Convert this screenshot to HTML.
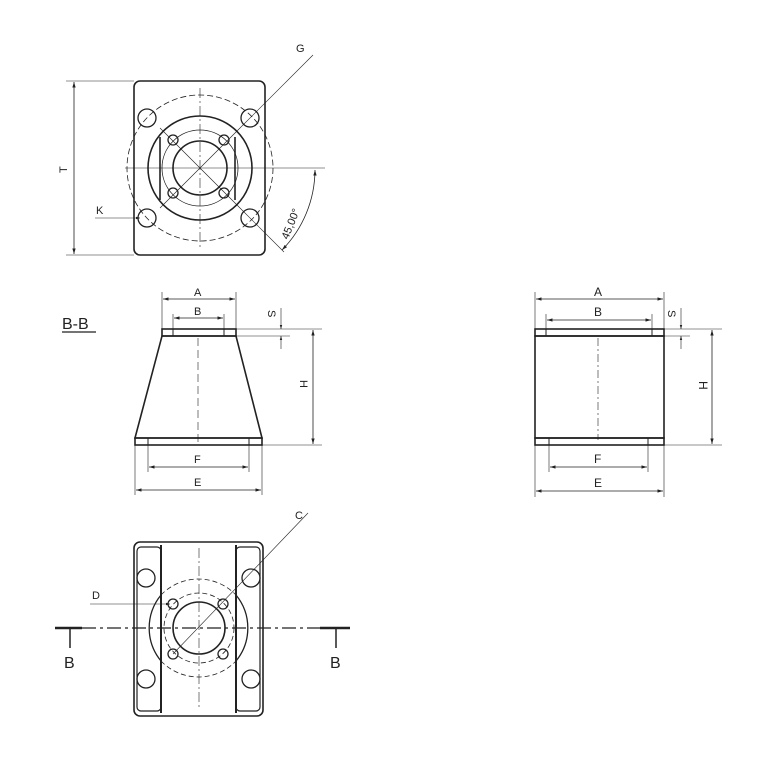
<!DOCTYPE html>
<html><head><meta charset="utf-8"><style>
html,body{margin:0;padding:0;background:#fff;}
svg{display:block;}
text{font-family:"Liberation Sans",sans-serif;fill:#222;}
</style></head><body>
<svg width="767" height="767" viewBox="0 0 767 767" xmlns="http://www.w3.org/2000/svg">
<defs>
<marker id="a" viewBox="0 0 10 10" refX="10" refY="5" markerWidth="7" markerHeight="7" orient="auto-start-reverse"><path d="M0,2 L10,5 L0,8 z" fill="#222"/></marker>
</defs>
<g fill="none" stroke="#222" stroke-width="1">
<!-- TOP VIEW -->
<rect x="134" y="81" width="131" height="174" rx="6" stroke-width="1.6"/>
<circle cx="200" cy="168" r="73" stroke-dasharray="6,3" stroke-width="0.8"/>
<circle cx="200" cy="168" r="52" stroke-width="1.6"/>
<circle cx="200" cy="168" r="38" stroke-width="0.8"/>
<circle cx="200" cy="168" r="27" stroke-width="1.6"/>
<line x1="160" y1="137" x2="160" y2="200" stroke-width="1.6"/>
<line x1="235" y1="137" x2="235" y2="200" stroke-width="1.6"/>
<g stroke-width="1.3">
<circle cx="147" cy="118" r="9"/><circle cx="250" cy="118" r="9"/>
<circle cx="147" cy="218" r="9"/><circle cx="250" cy="218" r="9"/>
<circle cx="173" cy="140" r="5"/><circle cx="224" cy="140" r="5"/>
<circle cx="173" cy="193" r="5"/><circle cx="224" cy="193" r="5"/>
</g>
<g stroke-width="0.6">
<line x1="125" y1="168" x2="325" y2="168"/>
<line x1="200" y1="88" x2="200" y2="248" stroke-dasharray="10,3,2,3"/>
<line x1="160" y1="208" x2="240" y2="128"/>
<line x1="160" y1="128" x2="240" y2="208"/>
<line x1="240" y1="128" x2="313" y2="55"/>
<line x1="240" y1="208" x2="284" y2="252"/>
<line x1="66" y1="81" x2="134" y2="81"/>
<line x1="66" y1="255" x2="134" y2="255"/>
<line x1="95" y1="218" x2="140" y2="218" marker-end="url(#a)"/>
</g>
<line x1="74" y1="82" x2="74" y2="254" stroke-width="0.8" marker-start="url(#a)" marker-end="url(#a)"/>
<path d="M315,170 A115,115 0 0 1 282,250" stroke-width="0.8" marker-start="url(#a)" marker-end="url(#a)"/>

<!-- SECTION B-B -->
<g stroke-width="1.6">
<rect x="162" y="329" width="74" height="7"/>
<polygon points="162,336 236,336 262,438 135,438"/>
<rect x="135" y="438" width="127" height="7"/>
</g>
<g stroke-width="1">
<line x1="173" y1="329" x2="173" y2="336"/><line x1="224" y1="329" x2="224" y2="336"/>
<line x1="148" y1="438" x2="148" y2="445"/><line x1="249" y1="438" x2="249" y2="445"/>
</g>
<g stroke-width="0.6">
<line x1="198" y1="338" x2="198" y2="445" stroke-dasharray="8,4"/>
<line x1="162" y1="292" x2="162" y2="329"/><line x1="236" y1="292" x2="236" y2="329"/>
<line x1="173" y1="314" x2="173" y2="329"/><line x1="224" y1="314" x2="224" y2="329"/>
<line x1="236" y1="329" x2="322" y2="329"/><line x1="236" y1="336" x2="290" y2="336"/>
<line x1="262" y1="445" x2="322" y2="445"/>
<line x1="148" y1="445" x2="148" y2="472"/><line x1="249" y1="445" x2="249" y2="472"/>
<line x1="135" y1="445" x2="135" y2="495"/><line x1="262" y1="445" x2="262" y2="495"/>
<line x1="281" y1="308" x2="281" y2="329" marker-end="url(#a)"/>
<line x1="281" y1="349" x2="281" y2="336" marker-end="url(#a)"/>
</g>
<g stroke-width="0.8">
<line x1="163" y1="299" x2="235" y2="299" marker-start="url(#a)" marker-end="url(#a)"/>
<line x1="174" y1="318" x2="223" y2="318" marker-start="url(#a)" marker-end="url(#a)"/>
<line x1="313" y1="330" x2="313" y2="444" marker-start="url(#a)" marker-end="url(#a)"/>
<line x1="149" y1="467" x2="248" y2="467" marker-start="url(#a)" marker-end="url(#a)"/>
<line x1="136" y1="490" x2="261" y2="490" marker-start="url(#a)" marker-end="url(#a)"/>
</g>

<!-- RIGHT VIEW -->
<g stroke-width="1.6">
<rect x="535" y="329" width="129" height="7"/>
<rect x="535" y="336" width="129" height="102"/>
<rect x="535" y="438" width="129" height="7"/>
</g>
<g stroke-width="1">
<line x1="546" y1="329" x2="546" y2="336"/><line x1="652" y1="329" x2="652" y2="336"/>
<line x1="549" y1="438" x2="549" y2="445"/><line x1="648" y1="438" x2="648" y2="445"/>
</g>
<g stroke-width="0.6">
<line x1="598" y1="338" x2="598" y2="440" stroke-dasharray="8,3,2,3"/>
<line x1="535" y1="292" x2="535" y2="329"/><line x1="664" y1="292" x2="664" y2="329"/>
<line x1="546" y1="314" x2="546" y2="329"/><line x1="652" y1="314" x2="652" y2="329"/>
<line x1="664" y1="329" x2="722" y2="329"/><line x1="664" y1="336" x2="690" y2="336"/>
<line x1="664" y1="445" x2="722" y2="445"/>
<line x1="549" y1="445" x2="549" y2="472"/><line x1="648" y1="445" x2="648" y2="472"/>
<line x1="535" y1="445" x2="535" y2="497"/><line x1="664" y1="445" x2="664" y2="497"/>
<line x1="681" y1="308" x2="681" y2="329" marker-end="url(#a)"/>
<line x1="681" y1="349" x2="681" y2="336" marker-end="url(#a)"/>
</g>
<g stroke-width="0.8">
<line x1="536" y1="299" x2="663" y2="299" marker-start="url(#a)" marker-end="url(#a)"/>
<line x1="547" y1="320" x2="651" y2="320" marker-start="url(#a)" marker-end="url(#a)"/>
<line x1="712" y1="330" x2="712" y2="444" marker-start="url(#a)" marker-end="url(#a)"/>
<line x1="550" y1="467" x2="647" y2="467" marker-start="url(#a)" marker-end="url(#a)"/>
<line x1="536" y1="491" x2="663" y2="491" marker-start="url(#a)" marker-end="url(#a)"/>
</g>

<!-- BOTTOM VIEW -->
<rect x="134" y="542" width="129" height="174" rx="6" stroke-width="1.6"/>
<rect x="137" y="547" width="24" height="164" rx="4" stroke-width="1.2"/>
<rect x="236" y="547" width="24" height="164" rx="4" stroke-width="1.2"/>
<line x1="161" y1="545" x2="161" y2="713" stroke-width="2"/>
<line x1="236" y1="545" x2="236" y2="713" stroke-width="2"/>
<path d="M161,595 A52,52 0 0 0 161,661" stroke-width="1.3"/>
<path d="M236,595 A52,52 0 0 1 236,661" stroke-width="1.3"/>
<path d="M161,595 A52,52 0 0 1 236,595" stroke-width="0.8" stroke-dasharray="5,3"/>
<path d="M161,661 A52,52 0 0 0 236,661" stroke-width="0.8" stroke-dasharray="5,3"/>
<circle cx="199" cy="628" r="35" stroke-width="0.8" stroke-dasharray="5,3"/>
<circle cx="199" cy="628" r="26" stroke-width="1.6"/>
<g stroke-width="1.3">
<circle cx="146" cy="578" r="9"/><circle cx="251" cy="578" r="9"/>
<circle cx="146" cy="679" r="9"/><circle cx="251" cy="679" r="9"/>
<circle cx="173" cy="604" r="5"/><circle cx="223" cy="604" r="5"/>
<circle cx="173" cy="654" r="5"/><circle cx="223" cy="654" r="5"/>
</g>
<g stroke-width="0.6">
<line x1="199" y1="548" x2="199" y2="710" stroke-dasharray="10,3,2,3"/>
<line x1="173" y1="654" x2="308" y2="513"/>
<line x1="90" y1="604" x2="170" y2="604" marker-end="url(#a)"/>
</g>
<line x1="82" y1="628" x2="320" y2="628" stroke-width="1.2" stroke-dasharray="14,4,3,4"/>
<line x1="55" y1="628" x2="82" y2="628" stroke-width="2.5"/>
<line x1="320" y1="628" x2="350" y2="628" stroke-width="2.5"/>
<line x1="70" y1="628" x2="70" y2="648" stroke-width="1.5"/>
<line x1="336" y1="628" x2="336" y2="648" stroke-width="1.5"/>
<line x1="62" y1="332" x2="96" y2="332" stroke-width="1.2"/>
</g>
<g font-size="11">
<text x="296" y="52">G</text>
<text x="96" y="214">K</text>
<text x="58" y="172" transform="rotate(-90 63 168)">T</text>
<text x="0" y="0" font-size="11" transform="translate(288,240) rotate(-68)">45,00°</text>
<text x="194" y="296">A</text>
<text x="194" y="315">B</text>
<text x="268" y="318" transform="rotate(90 272 314)">S</text>
<text x="300" y="388" transform="rotate(90 304 384)">H</text>
<text x="194" y="463">F</text>
<text x="194" y="486">E</text>
<text x="594" y="296" font-size="12">A</text>
<text x="594" y="316" font-size="12">B</text>
<text x="668" y="318" transform="rotate(90 672 314)">S</text>
<text x="699" y="389" font-size="12" transform="rotate(90 703 385)">H</text>
<text x="594" y="463" font-size="12">F</text>
<text x="594" y="487" font-size="12">E</text>
<text x="295" y="519">C</text>
<text x="92" y="599">D</text>
</g>
<text x="62" y="329" font-size="16">B-B</text>
<text x="64" y="668" font-size="16">B</text>
<text x="330" y="668" font-size="16">B</text>
</svg>
</body></html>
